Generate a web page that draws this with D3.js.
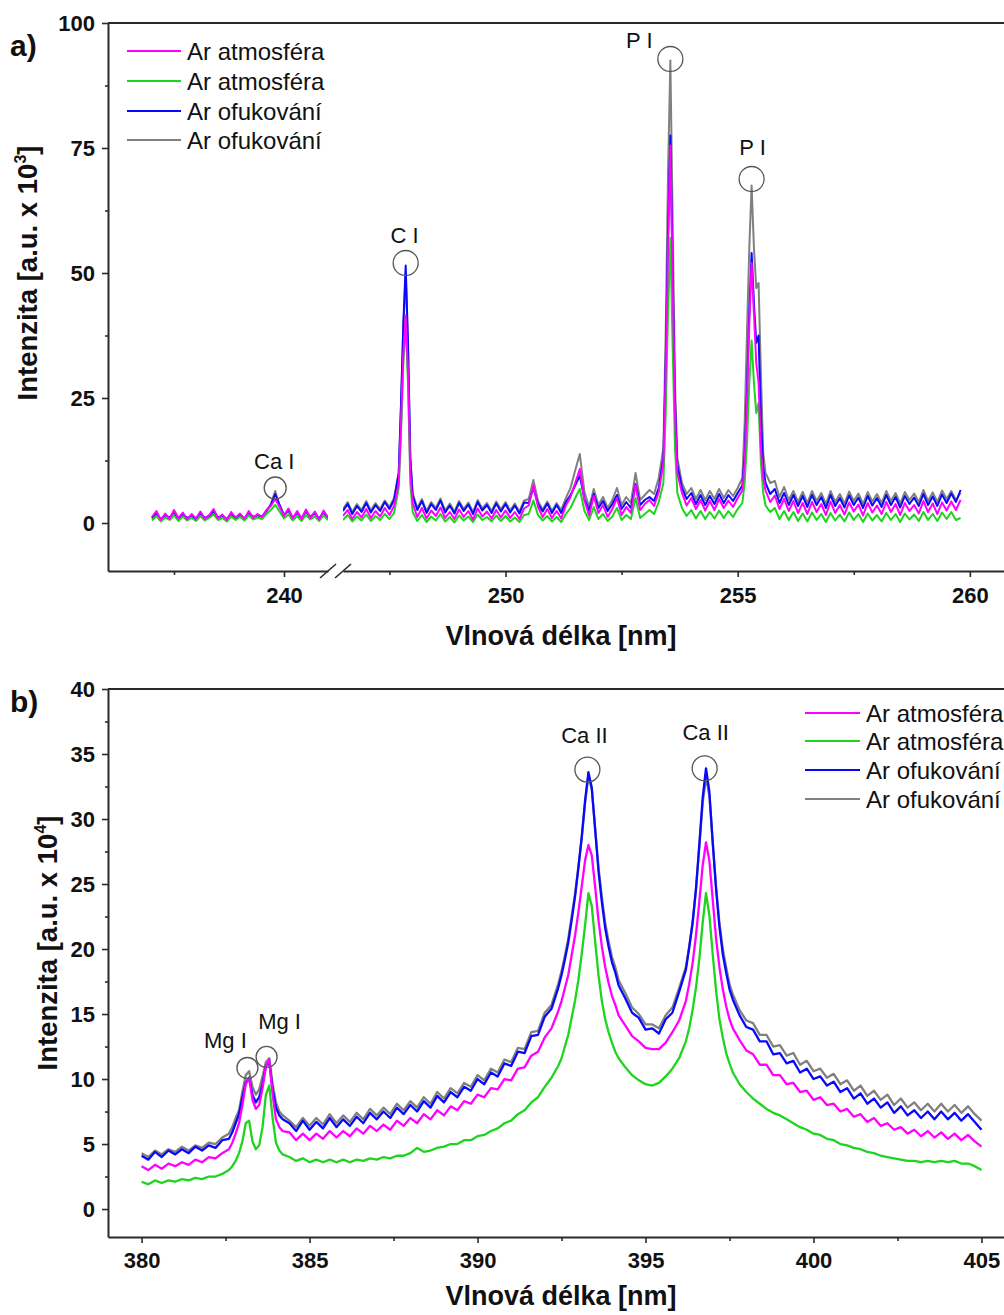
<!DOCTYPE html>
<html>
<head>
<meta charset="utf-8">
<script src="https://cdn.jsdelivr.net/npm/d3@7"></script>
<style>body{margin:0;background:#fff}</style>
</head>
<body>
<svg id="chart" width="1004" height="1315"></svg>
<script>
// ---------- series names ----------
const seriesLabels = ["Ar atmosféra", "Ar atmosféra", "Ar ofukování", "Ar ofukování"];

// ---------- panel a: 237–241 nm window (before the axis break) ----------
const waveAL = [237.0,237.1,237.2,237.3,237.4,237.5,237.6,237.7,237.8,237.9,238.0,238.1,238.2,238.3,238.4,238.5,238.6,238.7,238.8,238.9,239.0,239.1,239.2,239.3,239.4,239.5,239.6,239.7,239.8,239.9,240.0,240.1,240.2,240.3,240.4,240.5,240.6,240.7,240.8,240.9,241.0];
const aAtm1L  = [1.2,2.4,0.6,1.9,0.8,2.6,1.0,2.1,0.7,1.8,0.9,2.3,0.8,1.6,2.8,0.9,1.7,0.6,2.2,1.1,1.9,0.8,2.4,1.0,1.8,1.2,2.6,3.4,4.8,3.2,1.4,2.9,0.9,2.4,0.8,2.7,1.0,2.3,0.7,2.5,1.1];
const aAtm2L  = [0.5,1.4,0.3,1.1,0.6,1.5,0.4,1.3,0.5,1.0,0.4,1.4,0.5,1.0,1.7,0.6,1.0,0.3,1.3,0.6,1.2,0.5,1.5,0.7,1.1,0.8,1.8,2.6,3.6,2.3,0.9,1.7,0.5,1.4,0.4,1.6,0.7,1.3,0.4,1.5,0.6];
const aOfuk1L = [1.0,2.0,0.7,1.6,1.1,2.2,0.8,1.8,1.0,1.5,0.8,2.0,1.0,1.4,2.4,1.1,1.5,0.8,1.9,1.0,1.7,0.9,2.1,1.2,1.6,1.3,2.4,3.6,5.8,3.6,1.6,2.6,1.0,2.1,0.9,2.4,1.2,2.0,0.9,2.2,1.0];
const aOfuk2L = [0.9,1.8,0.6,1.5,1.0,2.0,0.7,1.7,0.9,1.4,0.7,1.9,0.9,1.3,2.2,1.0,1.4,0.7,1.8,0.9,1.6,0.8,2.0,1.1,1.5,1.2,2.3,3.8,6.4,3.4,1.5,2.4,0.9,2.0,0.8,2.3,1.1,1.9,0.8,2.1,0.9];

// ---------- panel a: 246.5–259.8 nm window (after the axis break) ----------
const waveAR = [
  246.5,246.6,246.7,246.8,246.9,247.0,247.1,247.2,247.3,247.4,247.5,247.6,
  247.7,247.75,247.8,247.85,247.9,247.95,248.0,
  248.1,248.2,248.3,248.4,248.5,248.6,248.7,248.8,248.9,249.0,
  249.1,249.2,249.3,249.4,249.5,249.6,249.7,249.8,249.9,250.0,
  250.1,250.2,250.3,250.4,250.5,250.6,250.7,250.8,250.9,251.0,
  251.1,251.2,251.3,251.4,251.5,251.6,251.7,251.8,251.9,252.0,
  252.1,252.2,252.3,252.4,252.5,252.6,252.7,252.8,252.9,253.0,
  253.1,253.2,253.3,
  253.4,253.45,253.5,253.55,253.6,253.65,253.7,
  253.8,253.9,254.0,254.1,254.2,254.3,254.4,254.5,254.6,254.7,254.8,254.9,255.0,255.1,
  255.15,255.2,255.25,255.3,255.35,255.4,255.45,255.5,255.55,255.6,
  255.7,255.8,255.9,256.0,256.1,256.2,256.3,256.4,256.5,256.6,
  256.7,256.8,256.9,257.0,257.1,257.2,257.3,257.4,257.5,257.6,
  257.7,257.8,257.9,258.0,258.1,258.2,258.3,258.4,258.5,258.6,
  258.7,258.8,258.9,259.0,259.1,259.2,259.3,259.4,259.5,259.6,
  259.7,259.8];
const aAtm1R = [
  1.4,2.6,0.8,2.2,1.1,2.8,1.0,2.4,1.3,3.0,1.6,3.4,
  8.0,20.0,34.0,41.5,30.0,10.0,4.0,
  1.2,3.0,0.9,2.5,1.4,3.1,1.0,2.2,0.8,2.7,
  1.2,2.4,0.7,2.9,1.3,2.3,0.9,2.6,1.1,2.5,
  1.0,2.2,0.8,2.9,3.5,7.5,3.2,1.2,2.8,1.0,
  2.4,0.9,3.5,5.2,8.0,10.8,4.5,1.5,5.4,2.0,
  3.6,1.2,2.8,5.0,1.6,3.2,2.0,7.6,2.6,3.8,
  4.6,3.4,6.2,
  12.0,30.0,55.0,75.5,48.0,22.0,10.0,
  6.0,3.5,5.0,2.8,4.6,2.5,4.4,2.6,4.8,3.0,4.5,3.2,5.0,6.5,
  12.0,24.0,40.0,52.0,42.0,32.0,28.0,15.0,9.0,6.5,
  4.2,5.5,2.8,4.8,2.4,4.4,2.0,4.0,1.8,4.2,
  2.2,3.8,1.6,4.3,2.0,3.6,1.7,4.1,2.3,3.7,
  1.5,4.0,2.1,3.5,1.8,4.2,2.2,3.8,1.6,4.0,
  2.4,3.6,1.9,4.4,2.2,3.9,1.8,4.1,2.5,4.3,
  2.6,4.6];
const aAtm2R = [
  0.6,1.6,0.3,1.3,0.5,1.7,0.4,1.4,0.6,1.8,0.8,2.0,
  7.0,18.0,32.0,40.0,28.0,8.0,2.2,
  0.4,1.6,0.2,1.3,0.5,1.8,0.3,1.2,0.1,1.5,
  0.5,1.3,0.2,1.7,0.6,1.2,0.3,1.5,0.4,1.4,
  0.3,1.1,0.2,1.6,1.8,4.5,1.6,0.5,1.4,0.3,
  1.2,0.2,1.8,3.0,5.0,6.8,2.4,0.6,3.2,0.8,
  1.8,0.4,1.3,3.0,0.6,1.6,0.8,5.0,1.0,1.8,
  2.6,1.8,4.2,
  8.0,22.0,42.0,57.0,35.0,15.0,6.0,
  3.0,1.4,2.6,0.9,2.4,0.8,2.2,0.9,2.5,1.0,2.4,1.2,2.8,4.0,
  8.0,16.0,28.0,36.5,28.0,22.0,24.0,12.0,6.0,3.5,
  2.2,3.0,0.8,2.4,0.6,2.2,0.4,1.9,0.3,2.1,
  0.6,1.8,0.2,2.0,0.5,1.7,0.3,2.1,0.6,1.8,
  0.2,1.9,0.5,1.6,0.3,2.0,0.6,1.8,0.2,1.9,
  0.7,1.7,0.4,2.2,0.6,1.8,0.4,2.1,0.8,2.2,
  0.6,1.0];
const aOfuk1R = [
  2.4,3.8,1.8,3.4,2.2,4.0,2.1,3.6,2.4,4.2,2.8,4.6,
  10.0,24.0,40.0,51.5,36.0,13.0,5.5,
  2.6,4.4,2.0,3.8,2.6,4.5,2.1,3.5,1.9,4.0,
  2.4,3.7,1.8,4.2,2.5,3.6,2.0,3.9,2.3,3.8,
  2.1,3.5,1.9,4.1,4.0,7.0,3.8,2.3,3.9,2.0,
  3.6,2.0,4.2,5.6,7.5,9.5,4.8,2.5,5.8,3.0,
  4.4,2.4,3.8,5.6,2.8,4.2,3.0,7.8,3.6,4.6,
  5.2,4.4,7.0,
  13.0,32.0,58.0,77.5,50.0,24.0,11.5,
  7.0,4.8,6.0,3.8,5.6,3.6,5.4,3.8,5.8,4.0,5.6,4.4,6.0,7.5,
  13.5,26.0,42.0,54.0,44.0,36.0,37.5,21.0,11.0,8.0,
  5.8,6.8,4.0,6.0,3.6,5.6,3.4,5.4,3.2,5.6,
  3.6,5.2,3.0,5.6,3.4,5.0,3.1,5.5,3.6,5.1,
  3.0,5.4,3.5,5.0,3.2,5.6,3.6,5.2,3.1,5.4,
  3.8,5.1,3.4,5.8,3.6,5.3,3.4,5.7,4.0,5.9,
  4.2,6.6];
const aOfuk2R = [
  2.8,4.2,2.2,3.8,2.6,4.4,2.5,4.0,2.8,4.5,3.2,5.0,
  10.0,23.5,39.0,50.0,35.0,13.0,6.0,
  3.0,4.8,2.4,4.2,3.0,4.9,2.5,3.9,2.3,4.4,
  2.8,4.1,2.2,4.6,2.9,4.0,2.4,4.3,2.7,4.2,
  2.5,3.9,2.3,4.5,4.8,8.6,4.4,2.7,4.3,2.4,
  4.0,2.6,5.0,7.0,10.5,13.8,6.2,3.2,6.8,3.6,
  5.2,3.0,4.6,7.0,3.6,5.2,4.0,10.0,4.6,5.6,
  6.6,5.8,9.0,
  15.0,38.0,70.0,92.5,60.0,28.0,13.0,
  8.0,5.8,7.0,4.8,6.6,4.6,6.4,4.8,6.8,5.0,6.6,5.4,7.0,9.0,
  20.0,38.0,55.0,67.5,55.0,47.0,48.0,30.0,14.0,10.0,
  8.0,8.4,5.2,7.2,4.6,6.4,4.2,6.2,4.0,6.4,
  4.4,6.0,3.8,6.4,4.2,5.8,3.9,6.3,4.4,5.9,
  3.8,6.2,4.3,5.8,4.0,6.4,4.4,6.0,3.9,6.2,
  4.6,5.9,4.2,6.6,4.4,6.1,4.2,6.5,4.8,6.4,
  4.6,6.0];

// ---------- panel b: 380–405 nm ----------
const waveB = [
  380.0,380.2,380.4,380.6,380.8,381.0,381.2,381.4,381.6,381.8,382.0,382.2,382.4,382.6,
  382.7,382.8,382.9,383.0,383.1,383.2,383.3,383.4,383.5,383.6,383.7,383.8,383.9,384.0,384.1,384.2,
  384.4,384.6,384.8,385.0,385.2,385.4,385.6,385.8,386.0,386.2,386.4,386.6,386.8,387.0,387.2,387.4,387.6,387.8,388.0,388.2,
  388.4,388.6,388.8,389.0,389.2,389.4,389.6,389.8,390.0,390.2,390.4,390.6,390.8,391.0,391.2,391.4,391.6,391.8,392.0,392.2,392.4,
  392.5,392.6,392.7,392.8,392.9,393.0,393.1,393.2,393.3,393.4,393.5,393.6,393.7,393.8,393.9,394.0,394.1,394.2,
  394.4,394.6,394.8,395.0,395.2,395.4,395.6,395.8,396.0,396.2,
  396.3,396.4,396.5,396.6,396.7,396.8,396.9,397.0,397.1,397.2,397.3,397.4,397.5,397.6,
  397.8,398.0,398.2,398.4,398.6,398.8,399.0,399.2,399.4,399.6,399.8,400.0,400.2,400.4,400.6,400.8,401.0,401.2,401.4,
  401.6,401.8,402.0,402.2,402.4,402.6,402.8,403.0,403.2,403.4,403.6,403.8,404.0,404.2,404.4,404.6,404.8,405.0];
const bAtm1 = [
  3.3,3.0,3.4,3.1,3.5,3.3,3.6,3.4,3.8,3.6,4.0,3.9,4.3,4.6,
  5.1,5.8,6.6,8.0,9.6,10.1,8.4,7.7,8.0,9.3,11.0,11.5,8.8,6.9,6.3,6.0,
  5.9,5.3,5.8,5.3,5.8,5.4,6.0,5.5,6.0,5.6,6.2,5.8,6.4,6.0,6.5,6.1,6.8,6.4,7.0,6.6,
  7.3,6.9,7.6,7.2,7.9,7.6,8.3,8.1,8.8,8.6,9.3,9.2,10.0,9.9,10.8,10.9,11.8,12.1,13.2,13.9,15.2,
  16.0,17.0,18.0,19.5,21.0,22.8,24.8,26.8,28.0,27.2,24.8,22.2,20.2,18.6,17.4,16.4,15.7,14.9,
  14.1,13.3,12.9,12.4,12.3,12.3,12.8,13.6,14.5,16.0,
  17.3,18.9,21.0,23.6,26.4,28.2,26.8,23.8,20.8,18.6,16.9,15.6,14.6,13.9,
  13.0,12.2,11.9,11.1,11.1,10.3,10.3,9.6,9.7,9.0,9.1,8.4,8.6,8.0,8.1,7.5,7.7,7.1,7.3,
  6.7,7.0,6.4,6.6,6.1,6.3,5.8,6.1,5.6,6.0,5.5,5.9,5.4,5.8,5.3,5.7,5.2,4.8];
const bAtm2 = [
  2.1,1.9,2.2,2.0,2.2,2.1,2.3,2.2,2.4,2.3,2.5,2.5,2.7,3.0,
  3.3,3.7,4.3,5.2,6.6,6.8,5.2,4.6,4.9,6.3,8.8,9.5,7.0,5.1,4.5,4.2,
  4.0,3.7,3.9,3.6,3.8,3.6,3.8,3.6,3.8,3.6,3.8,3.7,3.9,3.8,4.0,3.9,4.1,4.1,4.3,4.7,
  4.4,4.5,4.7,4.8,5.0,5.0,5.3,5.3,5.6,5.7,6.0,6.2,6.6,6.8,7.3,7.6,8.2,8.6,9.4,10.1,11.0,
  11.6,12.5,13.4,14.7,16.0,17.6,19.6,21.8,24.3,23.3,20.6,18.0,16.0,14.6,13.6,12.8,12.1,11.6,
  10.9,10.3,9.9,9.6,9.5,9.7,10.2,10.8,11.6,12.9,
  13.9,15.3,17.0,19.2,22.0,24.3,22.6,19.6,16.8,14.6,13.2,12.0,11.2,10.5,
  9.6,9.0,8.5,8.1,7.7,7.4,7.2,6.9,6.6,6.3,6.1,5.8,5.7,5.4,5.3,5.0,4.9,4.7,4.6,
  4.4,4.3,4.1,4.0,3.9,3.8,3.7,3.7,3.6,3.7,3.6,3.7,3.6,3.7,3.5,3.5,3.3,3.0];
const bOfuk1 = [
  4.1,3.8,4.4,4.0,4.5,4.2,4.6,4.3,4.8,4.5,4.9,4.7,5.3,5.4,
  5.9,6.6,7.3,8.6,9.7,10.1,8.8,8.2,8.6,9.6,11.0,11.3,9.2,7.8,7.2,6.9,
  6.6,6.0,6.8,6.1,6.7,6.2,7.0,6.3,6.9,6.4,7.1,6.6,7.4,6.9,7.5,7.0,7.8,7.3,8.0,7.5,
  8.3,7.8,8.7,8.2,9.0,8.6,9.4,9.1,10.0,9.6,10.5,10.2,11.2,11.0,12.1,12.0,13.3,13.4,14.8,15.4,17.0,
  18.0,19.2,20.5,22.2,24.0,26.2,28.6,31.4,33.6,32.4,29.2,26.0,23.6,21.6,20.2,19.0,18.2,17.2,
  16.2,15.1,14.7,13.8,13.9,13.5,14.6,15.1,16.7,18.4,
  20.1,22.0,24.6,28.0,31.6,33.9,32.1,28.2,24.6,21.7,19.6,18.2,16.9,16.1,
  14.9,14.0,13.8,12.9,12.9,11.9,12.0,11.2,11.4,10.5,10.8,10.0,10.2,9.5,9.8,9.0,9.3,8.5,8.9,
  8.1,8.5,7.8,8.2,7.4,7.9,7.2,7.6,7.0,7.5,6.9,7.5,6.9,7.4,6.8,7.3,6.7,6.1];
const bOfuk2 = [
  4.3,4.0,4.5,4.2,4.6,4.4,4.8,4.5,4.9,4.7,5.1,5.0,5.5,5.8,
  6.3,7.0,7.6,9.0,10.3,10.6,9.4,8.8,9.2,10.2,11.3,11.6,9.6,8.2,7.5,7.2,
  6.8,6.3,7.0,6.4,7.0,6.5,7.3,6.6,7.2,6.7,7.4,6.9,7.7,7.2,7.8,7.3,8.1,7.6,8.3,7.8,
  8.6,8.1,9.0,8.5,9.3,8.9,9.7,9.4,10.3,9.9,10.8,10.5,11.5,11.3,12.4,12.3,13.6,13.7,15.1,15.7,17.3,
  18.3,19.5,20.8,22.5,24.2,26.3,28.5,31.2,33.3,32.3,29.3,26.3,24.0,22.0,20.6,19.4,18.6,17.6,
  16.6,15.5,15.0,14.2,14.2,13.9,14.9,15.5,17.0,18.6,
  20.2,22.0,24.5,27.8,31.2,33.2,31.8,28.2,24.8,22.0,20.0,18.6,17.3,16.5,
  15.3,14.5,14.3,13.4,13.4,12.5,12.6,11.8,12.0,11.1,11.4,10.6,10.8,10.1,10.4,9.6,9.9,9.1,9.5,
  8.7,9.1,8.4,8.8,8.0,8.5,7.8,8.2,7.6,8.1,7.5,8.1,7.5,8.0,7.4,7.9,7.3,6.8];

// ---------- axis ticks ----------
const aXTicksL = [240], aXMinorL = [237.5];
const aXTicksR = [250, 255, 260], aXMinorR = [247.5, 252.5, 257.5];
const aYTicks = [0, 25, 50, 75, 100], aYMinor = [12.5, 37.5, 62.5, 87.5];
const bXTicks = [380, 385, 390, 395, 400, 405], bXMinor = [382.5, 387.5, 392.5, 397.5, 402.5];
const bYTicks = [0, 5, 10, 15, 20, 25, 30, 35, 40], bYMinor = [2.5, 7.5, 12.5, 17.5, 22.5, 27.5, 32.5, 37.5];

// ---------- line identifications (wavelength, intensity at the peak) ----------
const annA = [
  {label: "Ca I", seg: "L", w: 239.8,  v: 7.0},
  {label: "C I",  seg: "R", w: 247.85, v: 52.0},
  {label: "P I",  seg: "R", w: 253.55, v: 92.8},
  {label: "P I",  seg: "R", w: 255.3,  v: 68.8}];
const annB = [
  {label: "Mg I",  w: 383.15, v: 10.85},
  {label: "Mg I",  w: 383.72, v: 11.7},
  {label: "Ca II", w: 393.27, v: 33.8},
  {label: "Ca II", w: 396.76, v: 33.9}];

// ---------- styling / layout ----------
const FONT = "'Liberation Sans', Arial, Helvetica, sans-serif";
const colors = ["#ff00ff", "#1ed41e", "#0808ff", "#808080"];
const FRAME = "#2a2a2a";
const annLayoutA = [{dx: -1, dy: -19, r: 11}, {dx: -1, dy: -20, r: 12.5}, {dx: -31, dy: -11, r: 12.5}, {dx: 1, dy: -24, r: 12.5}];
const annLayoutB = [{dx: -22, dy: -20, r: 10.5}, {dx: 13, dy: -28, r: 10.5}, {dx: -3, dy: -27, r: 12.5}, {dx: 1, dy: -28, r: 12.5}];

const svg = d3.select("#chart");
svg.append("rect").attr("width", 1004).attr("height", 1315).attr("fill", "#fff");

function styleAxis(g, fontSize, keepDomain) {
  g.selectAll("text").attr("font-family", FONT).attr("font-weight", "bold")
    .attr("font-size", fontSize).attr("fill", "#111");
  g.selectAll("line").attr("stroke", FRAME).attr("stroke-width", 1.6);
  if (keepDomain) g.select(".domain").attr("stroke", FRAME).attr("stroke-width", 2);
  else g.select(".domain").remove();
}

function yTitle(g, x, y, power) {
  const t = g.append("text").attr("transform", `translate(${x},${y}) rotate(-90)`)
    .attr("text-anchor", "middle").attr("font-family", FONT).attr("font-weight", "bold")
    .attr("font-size", 27.5).attr("fill", "#111");
  t.append("tspan").text("Intenzita [a.u. x 10");
  t.append("tspan").attr("font-size", 16).attr("dy", -11).text(power);
  t.append("tspan").attr("dy", 11).text("]");
}

function xTitle(g, x, y) {
  g.append("text").attr("x", x).attr("y", y).attr("text-anchor", "middle")
    .attr("font-family", FONT).attr("font-weight", "bold").attr("font-size", 27)
    .attr("fill", "#111").text("Vlnová délka [nm]");
}

function legend(g, x0, x1, rows) {
  seriesLabels.forEach((lab, i) => {
    g.append("line").attr("x1", x0).attr("x2", x1).attr("y1", rows[i]).attr("y2", rows[i])
      .attr("stroke", colors[i]).attr("stroke-width", 2);
    g.append("text").attr("x", x1 + 6).attr("y", rows[i]).attr("dy", "0.36em")
      .attr("font-family", FONT).attr("font-size", 24).attr("fill", "#111").text(lab);
  });
}

function annotate(g, list, layout, xOf, y) {
  list.forEach((a, i) => {
    const cx = xOf(a), cy = y(a.v), L = layout[i];
    g.append("circle").attr("cx", cx).attr("cy", cy).attr("r", L.r)
      .attr("fill", "none").attr("stroke", "#555").attr("stroke-width", 1.3);
    g.append("text").attr("x", cx + L.dx).attr("y", cy + L.dy).attr("text-anchor", "middle")
      .attr("font-family", FONT).attr("font-size", 22).attr("fill", "#111").text(a.label);
  });
}

// ================= panel a =================
{
  const g = svg.append("g");
  const top = 23, bottom = 571;
  const xL = d3.scaleLinear().domain([236, 241]).range([108, 328]);
  const xR = d3.scaleLinear().domain([246.5, 260.8]).range([343, 1007]);
  const y = d3.scaleLinear().domain([-9.6, 100]).range([bottom, top]);

  const defs = svg.append("defs");
  defs.append("clipPath").attr("id", "clipAL").append("rect")
    .attr("x", xL.range()[0]).attr("y", top).attr("width", xL.range()[1] - xL.range()[0]).attr("height", bottom - top);
  defs.append("clipPath").attr("id", "clipAR").append("rect")
    .attr("x", xR.range()[0]).attr("y", top).attr("width", xR.range()[1] - xR.range()[0]).attr("height", bottom - top);

  const left = [aAtm1L, aAtm2L, aOfuk1L, aOfuk2L];
  const right = [aAtm1R, aAtm2R, aOfuk1R, aOfuk2R];
  const lineL = d3.line().x(d => xL(d[0])).y(d => y(d[1]));
  const lineR = d3.line().x(d => xR(d[0])).y(d => y(d[1]));
  [3, 2, 1, 0].forEach(i => {
    g.append("path").attr("clip-path", "url(#clipAL)").attr("d", lineL(d3.zip(waveAL, left[i])))
      .attr("fill", "none").attr("stroke", colors[i]).attr("stroke-width", 2).attr("stroke-linejoin", "round");
    g.append("path").attr("clip-path", "url(#clipAR)").attr("d", lineR(d3.zip(waveAR, right[i])))
      .attr("fill", "none").attr("stroke", colors[i]).attr("stroke-width", 2).attr("stroke-linejoin", "round");
  });

  // frame: top edge
  g.append("line").attr("x1", xL.range()[0]).attr("x2", xR.range()[1]).attr("y1", top).attr("y2", top)
    .attr("stroke", FRAME).attr("stroke-width", 2);

  // left axis
  g.append("g").attr("transform", `translate(${xL.range()[0]},0)`)
    .call(d3.axisLeft(y).tickValues(aYTicks).tickSize(6).tickPadding(7).tickSizeOuter(0))
    .call(s => styleAxis(s, 22, true));
  g.append("g").attr("transform", `translate(${xL.range()[0]},0)`)
    .call(d3.axisLeft(y).tickValues(aYMinor).tickSize(3).tickFormat(""))
    .call(s => styleAxis(s, 22, false));

  // bottom axis, two pieces around the break
  g.append("g").attr("transform", `translate(0,${bottom})`)
    .call(d3.axisBottom(xL).tickValues(aXTicksL).tickSize(6).tickPadding(10).tickSizeOuter(0).tickFormat(d3.format("d")))
    .call(s => styleAxis(s, 22, true));
  g.append("g").attr("transform", `translate(0,${bottom})`)
    .call(d3.axisBottom(xL).tickValues(aXMinorL).tickSize(4).tickFormat(""))
    .call(s => styleAxis(s, 22, false));
  g.append("g").attr("transform", `translate(0,${bottom})`)
    .call(d3.axisBottom(xR).tickValues(aXTicksR).tickSize(6).tickPadding(10).tickSizeOuter(0).tickFormat(d3.format("d")))
    .call(s => styleAxis(s, 22, true));
  g.append("g").attr("transform", `translate(0,${bottom})`)
    .call(d3.axisBottom(xR).tickValues(aXMinorR).tickSize(4).tickFormat(""))
    .call(s => styleAxis(s, 22, false));

  // break marks
  [xL.range()[1], xR.range()[0]].forEach(bx => {
    g.append("line").attr("x1", bx - 8).attr("y1", bottom + 7).attr("x2", bx + 8).attr("y2", bottom - 7)
      .attr("stroke", FRAME).attr("stroke-width", 1.6);
  });

  yTitle(g, 37, 273, "3");
  xTitle(g, 561, 645);
  g.append("text").attr("x", 10).attr("y", 56).attr("font-family", FONT).attr("font-weight", "bold")
    .attr("font-size", 30).attr("fill", "#111").text("a)");
  legend(g, 127, 181, [51, 81, 111, 140]);
  annotate(g, annA, annLayoutA, a => (a.seg === "L" ? xL(a.w) : xR(a.w)), y);
}

// ================= panel b =================
{
  const g = svg.append("g");
  const top = 689, bottom = 1237;
  const x = d3.scaleLinear().domain([379, 405.7]).range([108, 1005]);
  const y = d3.scaleLinear().domain([-2.15, 40]).range([bottom, top]);

  svg.select("defs").append("clipPath").attr("id", "clipB").append("rect")
    .attr("x", x.range()[0]).attr("y", top).attr("width", x.range()[1] - x.range()[0]).attr("height", bottom - top);

  const series = [bAtm1, bAtm2, bOfuk1, bOfuk2];
  const line = d3.line().x(d => x(d[0])).y(d => y(d[1]));
  [3, 2, 0, 1].forEach(i => {
    g.append("path").attr("clip-path", "url(#clipB)").attr("d", line(d3.zip(waveB, series[i])))
      .attr("fill", "none").attr("stroke", colors[i]).attr("stroke-width", 2.3).attr("stroke-linejoin", "round");
  });

  g.append("line").attr("x1", x.range()[0]).attr("x2", 1007).attr("y1", top).attr("y2", top)
    .attr("stroke", FRAME).attr("stroke-width", 2);

  g.append("g").attr("transform", `translate(${x.range()[0]},0)`)
    .call(d3.axisLeft(y).tickValues(bYTicks).tickSize(6).tickPadding(7).tickSizeOuter(0))
    .call(s => styleAxis(s, 22, true));
  g.append("g").attr("transform", `translate(${x.range()[0]},0)`)
    .call(d3.axisLeft(y).tickValues(bYMinor).tickSize(3).tickFormat(""))
    .call(s => styleAxis(s, 22, false));
  g.append("g").attr("transform", `translate(0,${bottom})`)
    .call(d3.axisBottom(x).tickValues(bXTicks).tickSize(6).tickPadding(9).tickSizeOuter(0).tickFormat(d3.format("d")))
    .call(s => styleAxis(s, 22, true));
  g.append("g").attr("transform", `translate(0,${bottom})`)
    .call(d3.axisBottom(x).tickValues(bXMinor).tickSize(4).tickFormat(""))
    .call(s => styleAxis(s, 22, false));

  yTitle(g, 57, 943, "4");
  xTitle(g, 561, 1305);
  g.append("text").attr("x", 10).attr("y", 712).attr("font-family", FONT).attr("font-weight", "bold")
    .attr("font-size", 30).attr("fill", "#111").text("b)");
  legend(g, 805, 860, [713, 741, 770, 799]);
  annotate(g, annB, annLayoutB, a => x(a.w), y);
}
</script>
</body>
</html>
